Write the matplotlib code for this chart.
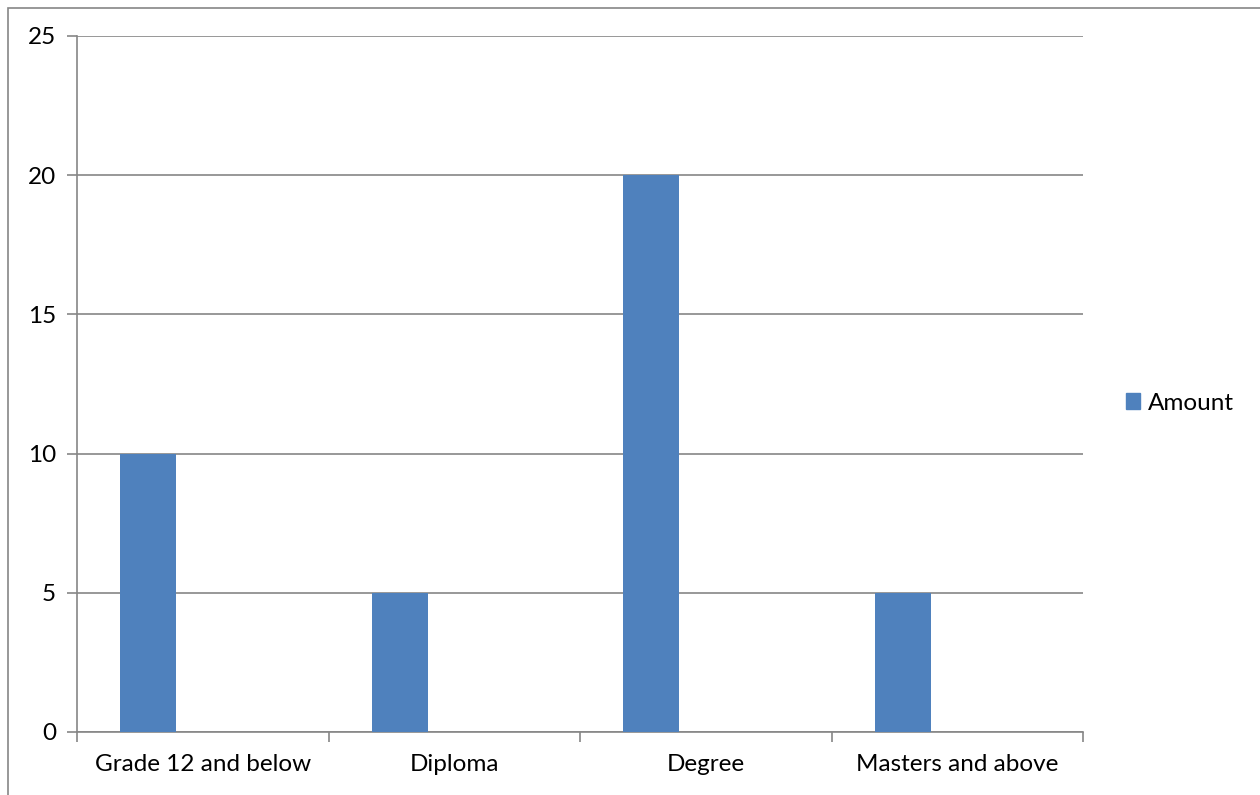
import matplotlib.pyplot as plt
import matplotlib.patches as mpatches

plt.rcParams['font.family'] = ['Lato', 'DejaVu Sans']

# data
categories = ['Grade 12 and below', 'Diploma', 'Degree', 'Masters and above']
amount = [10, 5, 20, 5]
yticks = [0, 5, 10, 15, 20, 25]

bar_color = '#4F81BD'
grid_color = '#868686'
fs = 17.5

fig = plt.figure(figsize=(12.6, 7.95), dpi=100)
ax = fig.add_axes([77 / 1260, 1 - 732 / 795, (1083 - 77) / 1260, (732 - 36) / 795])

x = list(range(len(categories)))
ax.bar([i - 0.217 for i in x], amount, width=0.223, color=bar_color, zorder=3, label='Amount')

ax.set_xlim(-0.5, len(categories) - 0.5)
ax.set_ylim(0, 25)
ax.set_yticks(yticks)
ax.set_yticklabels([str(v) for v in yticks], fontsize=fs)
ax.yaxis.grid(True, color=grid_color, linewidth=1.2, zorder=0)

ax.set_xticks(x)
ax.set_xticklabels(categories, fontsize=fs)
ax.tick_params(axis='x', length=0, pad=16)
ax.set_xticks([i - 0.5 for i in range(len(categories) + 1)], minor=True)
ax.tick_params(axis='x', which='minor', length=7, color=grid_color, width=1.2)
ax.tick_params(axis='y', length=7, color=grid_color, width=1.2, pad=8)

for s in ['top', 'right']:
    ax.spines[s].set_visible(False)
for s in ['left', 'bottom']:
    ax.spines[s].set_color(grid_color)
    ax.spines[s].set_linewidth(1.2)

handle = mpatches.Patch(color=bar_color, label='Amount')
fig.legend(handles=[handle], loc='center left', bbox_to_anchor=(1104 / 1260, 1 - 403 / 795),
           frameon=False, fontsize=fs, handlelength=0.6, handleheight=0.6, handletextpad=0.3)

# outer chart border, cut off at the right and bottom edges
border = mpatches.Rectangle((8 / 1260, -0.1), 1.2, 1 - 8 / 795 + 0.1, transform=fig.transFigure,
                            fill=False, edgecolor=grid_color, linewidth=1.2)
fig.patches.append(border)

fig.savefig('out.png', dpi=100)
